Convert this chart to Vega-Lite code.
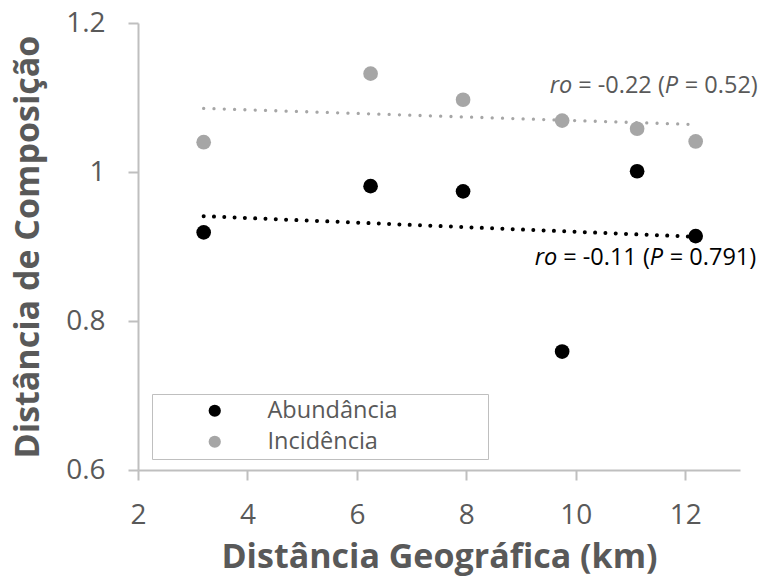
{
  "$schema": "https://vega.github.io/schema/vega-lite/v6.json",
  "width": 602,
  "height": 447,
  "autosize": {"type": "none"},
  "padding": {"left": 138, "top": 23, "right": 29, "bottom": 108},
  "config": {
    "font": "Open Sans",
    "view": {"stroke": null},
    "axis": {
      "domainColor": "#bfbfbf", "domainWidth": 2,
      "tickColor": "#bfbfbf", "tickWidth": 2, "tickSize": 10,
      "grid": false,
      "labelColor": "#595959", "labelFontSize": 28, "labelFont": "Open Sans",
      "titleColor": "#595959", "titleFontSize": 34, "titleFontWeight": "bold", "titleFont": "Open Sans",
      "labelFlush": false, "labelOverlap": false
    }
  },
  "datasets": {
    "pts": [
      {"dist": 3.2, "value": 0.919, "type": "Abundância"},
      {"dist": 6.25, "value": 0.981, "type": "Abundância"},
      {"dist": 7.94, "value": 0.974, "type": "Abundância"},
      {"dist": 9.75, "value": 0.759, "type": "Abundância"},
      {"dist": 11.12, "value": 1.001, "type": "Abundância"},
      {"dist": 12.19, "value": 0.914, "type": "Abundância"},
      {"dist": 3.2, "value": 1.04, "type": "Incidência"},
      {"dist": 6.25, "value": 1.132, "type": "Incidência"},
      {"dist": 7.94, "value": 1.097, "type": "Incidência"},
      {"dist": 9.75, "value": 1.069, "type": "Incidência"},
      {"dist": 11.12, "value": 1.058, "type": "Incidência"},
      {"dist": 12.19, "value": 1.041, "type": "Incidência"}
    ],
    "notes": [
      {"ax": 9.934, "ay": 1.115, "grp": "Incidência", "p1": "ro", "p2": "= -0.22 (", "p3": "P", "p4": "= 0.52)"},
      {"ax": 9.66, "ay": 0.884, "grp": "Abundância", "p1": "ro", "p2": "= -0.11 (", "p3": "P", "p4": "= 0.791)"}
    ]
  },
  "layer": [
    {
      "data": {"name": "pts"},
      "transform": [{"filter": "datum.type === 'Incidência'"}, {"regression": "value", "on": "dist"}],
      "mark": {"type": "line", "strokeDash": [0.01, 10.3], "strokeCap": "round", "color": "#a6a6a6", "strokeWidth": 3.3},
      "encoding": {
        "x": {"field": "dist", "type": "quantitative", "scale": {"domain": [2, 13], "nice": false, "zero": false},
              "axis": {"values": [2, 4, 6, 8, 10, 12], "format": "~g", "title": "Distância Geográfica (km)", "labelPadding": 21, "titlePadding": 11}},
        "y": {"field": "value", "type": "quantitative", "scale": {"domain": [0.6, 1.2], "nice": false, "zero": false},
              "axis": {"values": [0.6, 0.8, 1, 1.2], "format": "~g", "title": "Distância de Composição", "labelPadding": 23, "titlePadding": 20}}
      }
    },
    {
      "data": {"name": "pts"},
      "transform": [{"filter": "datum.type === 'Abundância'"}, {"regression": "value", "on": "dist"}],
      "mark": {"type": "line", "strokeDash": [0.01, 10.3], "strokeCap": "round", "color": "#000000", "strokeWidth": 4},
      "encoding": {
        "x": {"field": "dist", "type": "quantitative"},
        "y": {"field": "value", "type": "quantitative"}
      }
    },
    {
      "data": {"name": "pts"},
      "mark": {"type": "point", "shape": "circle", "filled": true, "size": 215, "opacity": 1},
      "encoding": {
        "x": {"field": "dist", "type": "quantitative"},
        "y": {"field": "value", "type": "quantitative"},
        "color": {"field": "type", "type": "nominal",
          "scale": {"domain": ["Abundância", "Incidência"], "range": ["#000000", "#a6a6a6"]},
          "legend": {"orient": "none", "legendX": 14, "legendY": 371, "title": " ", "titleOrient": "right", "titlePadding": 85, "titleFontSize": 8,
                     "padding": 5, "strokeColor": "#bfbfbf", "symbolType": "circle", "symbolSize": 150,
                     "symbolOffset": 46, "labelOffset": 41, "labelFontSize": 23.5, "labelColor": "#595959", "labelFont": "Open Sans",
                     "rowPadding": 6, "symbolStrokeWidth": 0}
        }
      }
    },
    {
      "data": {"name": "notes"},
      "transform": [{"filter": "datum.grp === 'Incidência'"}],
      "encoding": {
        "x": {"field": "ax", "type": "quantitative"},
        "y": {"field": "ay", "type": "quantitative"}
      },
      "layer": [
        {"mark": {"type": "text", "align": "right", "baseline": "middle", "fontSize": 23.5, "fontStyle": "italic", "color": "#595959"},
         "encoding": {"text": {"field": "p1"}}},
        {"mark": {"type": "text", "align": "left", "baseline": "middle", "fontSize": 23.5, "dx": 6, "color": "#595959"},
         "encoding": {"text": {"field": "p2"}}},
        {"mark": {"type": "text", "align": "left", "baseline": "middle", "fontSize": 23.5, "fontStyle": "italic", "dx": 92.6, "color": "#595959"},
         "encoding": {"text": {"field": "p3"}}},
        {"mark": {"type": "text", "align": "left", "baseline": "middle", "fontSize": 23.5, "dx": 112.6, "color": "#595959"},
         "encoding": {"text": {"field": "p4"}}}
      ]
    },
    {
      "data": {"name": "notes"},
      "transform": [{"filter": "datum.grp === 'Abundância'"}],
      "encoding": {
        "x": {"field": "ax", "type": "quantitative"},
        "y": {"field": "ay", "type": "quantitative"}
      },
      "layer": [
        {"mark": {"type": "text", "align": "right", "baseline": "middle", "fontSize": 23.5, "fontStyle": "italic", "color": "#000000"},
         "encoding": {"text": {"field": "p1"}}},
        {"mark": {"type": "text", "align": "left", "baseline": "middle", "fontSize": 23.5, "dx": 6, "color": "#000000"},
         "encoding": {"text": {"field": "p2"}}},
        {"mark": {"type": "text", "align": "left", "baseline": "middle", "fontSize": 23.5, "fontStyle": "italic", "dx": 92.6, "color": "#000000"},
         "encoding": {"text": {"field": "p3"}}},
        {"mark": {"type": "text", "align": "left", "baseline": "middle", "fontSize": 23.5, "dx": 112.6, "color": "#000000"},
         "encoding": {"text": {"field": "p4"}}}
      ]
    }
  ]
}
